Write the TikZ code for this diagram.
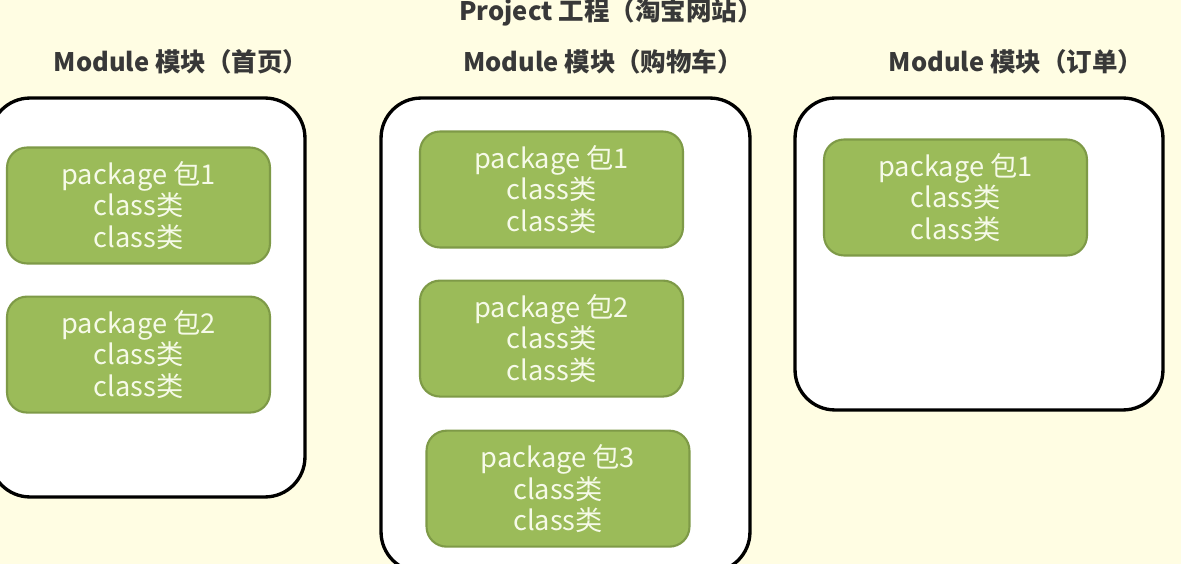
\documentclass[tikz,border=0pt]{standalone}
\usepackage{fontspec}
\newfontfamily\cjk{Noto Sans CJK SC}
\usetikzlibrary{positioning}

\definecolor{paper}{HTML}{FFFDE3}
\definecolor{pkggreen}{HTML}{9BBB59}
\definecolor{pkgedge}{HTML}{7E9A47}
\definecolor{pkgtext}{HTML}{F6FAE8}
\definecolor{headgray}{HTML}{383838}

\begin{document}
\begin{tikzpicture}[
        x=0.02cm, y=-0.02cm,
        node distance=0.62cm,
        % Define Styles
        headline/.style={font=\cjk\bfseries\fontsize{14.5}{16}\selectfont, text=headgray, inner sep=0pt},
        modulebox/.style={rectangle, draw=black, fill=white, line width=1.9pt, rounded corners=0.8cm},
        pkgbox/.style={rectangle, draw=pkgedge, fill=pkggreen, line width=1.2pt, rounded corners=0.4cm, minimum width=5.26cm, minimum height=2.32cm, align=center, text=pkgtext, font=\cjk\fontsize{15.5}{18.1}\selectfont}
    ]

    % --- PAGE ---
    \clip (0,0) rectangle (1181,564);
    \fill[paper] (0,0) rectangle (1181,564);

    % --- HEADINGS ---
    \node[headline] (project) at (611,12) {Project 工程（淘宝网站）};
    \node[headline] (head1) at (181,62) {Module 模块（首页）};
    \node[headline] (head2) at (603,62) {Module 模块（购物车）};
    \node[headline] (head3) at (1016,62) {Module 模块（订单）};

    % --- MODULE BOXES ---
    \node[modulebox, minimum width=6.3cm, minimum height=7.98cm] (home) at (147.5,297.5) {};
    \node[modulebox, minimum width=7.38cm, minimum height=9.48cm] (cart) at (565.5,335) {};
    \node[modulebox, minimum width=7.36cm, minimum height=6.24cm] (order) at (979,254) {};

    % --- PACKAGES (home) ---
    \node[pkgbox] (home1) at (138.5,205.5) {package 包1\\ class类\\ class类};
    \node[pkgbox, below=of home1] (home2) {package 包2\\ class类\\ class类};

    % --- PACKAGES (cart) ---
    \node[pkgbox] (cart1) at (551.5,189.5) {package 包1\\ class类\\ class类};
    \node[pkgbox, below=of cart1] (cart2) {package 包2\\ class类\\ class类};
    \node[pkgbox, below=0.64cm of cart2, xshift=0.13cm] (cart3) {package 包3\\ class类\\ class类};

    % --- PACKAGES (order) ---
    \node[pkgbox] (order1) at (955.5,197.5) {package 包1\\ class类\\ class类};

\end{tikzpicture}
\end{document}
